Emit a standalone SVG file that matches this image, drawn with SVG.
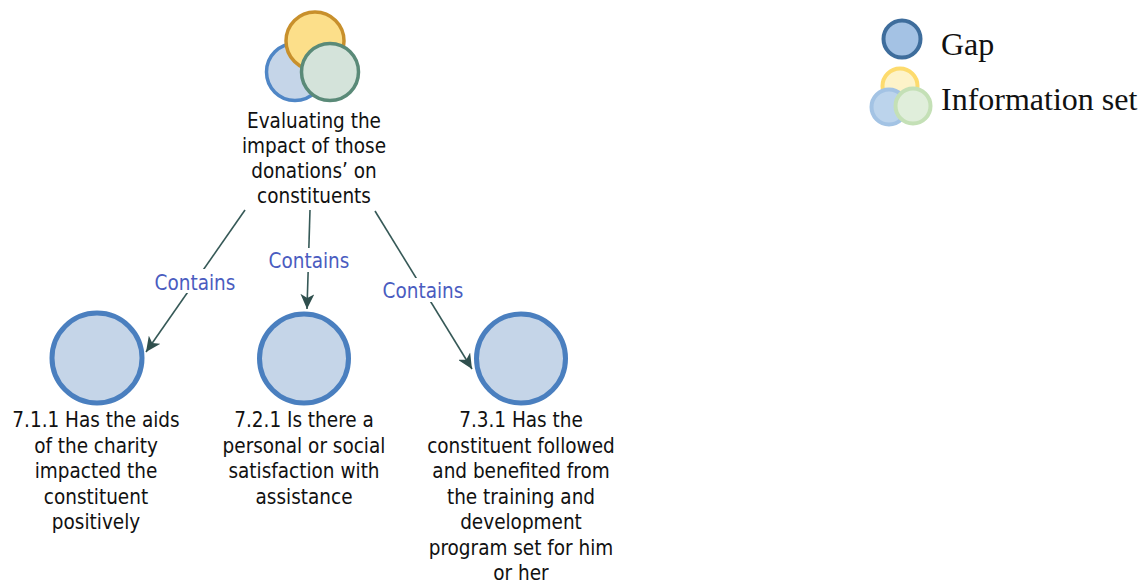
<svg xmlns="http://www.w3.org/2000/svg" width="1147" height="583" viewBox="0 0 1147 583">
<defs>
<style>
.lbl{font-family:"DejaVu Sans Condensed","DejaVu Sans",sans-serif;font-size:20.5px;fill:#111;text-anchor:middle}
.edge{font-family:"DejaVu Sans Condensed","DejaVu Sans",sans-serif;font-size:20.5px;fill:#4a5cc0;text-anchor:middle}
.gap{fill:#c5d5e8;stroke:#4a7fbf;stroke-width:5}
.conn{stroke:#365957;stroke-width:1.6;fill:none}
.leg{font-family:"Liberation Serif",serif;font-size:32px;fill:#111}
</style>
<marker id="arr" markerUnits="userSpaceOnUse" markerWidth="16" markerHeight="14" refX="15" refY="7" orient="auto">
<path d="M0,0 L15,7 L0,14 L4,7 Z" fill="#2f4f4d"/>
</marker>
</defs>
<rect width="1147" height="583" fill="#fff"/>

<g id="connectors">
<line class="conn" x1="245" y1="210" x2="146" y2="352" marker-end="url(#arr)"/>
<line class="conn" x1="310" y1="210" x2="307" y2="309" marker-end="url(#arr)"/>
<line class="conn" x1="375" y1="211" x2="472" y2="369" marker-end="url(#arr)"/>
<rect x="153" y="269" width="84" height="24" fill="#fff"/>
<text class="edge" x="195" y="290">Contains</text>
<rect x="266" y="248" width="86" height="24" fill="#fff"/>
<text class="edge" x="309" y="268">Contains</text>
<rect x="381" y="278" width="84" height="24" fill="#fff"/>
<text class="edge" x="423" y="298">Contains</text>
</g>

<g id="node-info">
<circle cx="295" cy="72" r="28.5" fill="#c5d5e8" stroke="#4f86c6" stroke-width="3.5"/>
<circle cx="315" cy="41" r="29" fill="#fcdf8a" stroke="#c8902c" stroke-width="3.5"/>
<circle cx="330" cy="72" r="28.5" fill="#d4e3da" stroke="#5a8a78" stroke-width="3.5"/>
<text class="lbl"><tspan x="314" y="128">Evaluating the</tspan><tspan x="314" y="153">impact of those</tspan><tspan x="314" y="178">donations’ on</tspan><tspan x="314" y="203">constituents</tspan></text>
</g>

<g id="node-711">
<circle class="gap" cx="97" cy="358" r="45"/>
<text class="lbl"><tspan x="96" y="427">7.1.1 Has the aids</tspan><tspan x="96" y="452.5">of the charity</tspan><tspan x="96" y="478">impacted the</tspan><tspan x="96" y="503.5">constituent</tspan><tspan x="96" y="529">positively</tspan></text>
</g>

<g id="node-721">
<circle class="gap" cx="304" cy="358.5" r="44.5"/>
<text class="lbl"><tspan x="304" y="427">7.2.1 Is there a</tspan><tspan x="304" y="452.5">personal or social</tspan><tspan x="304" y="478">satisfaction with</tspan><tspan x="304" y="503.5">assistance</tspan></text>
</g>

<g id="node-731">
<circle class="gap" cx="521" cy="358.5" r="44.5"/>
<text class="lbl"><tspan x="521" y="427">7.3.1 Has the</tspan><tspan x="521" y="452.5">constituent followed</tspan><tspan x="521" y="478">and benefited from</tspan><tspan x="521" y="503.5">the training and</tspan><tspan x="521" y="529">development</tspan><tspan x="521" y="554.5">program set for him</tspan><tspan x="521" y="580">or her</tspan></text>
</g>

<g id="legend">
<circle cx="902" cy="39" r="18.5" fill="#a4c2e4" stroke="#3e6d9c" stroke-width="4"/>
<text class="leg" x="941" y="55">Gap</text>
<circle cx="900" cy="86" r="17.5" fill="#fdf3c9" stroke="#fddb6d" stroke-width="4"/>
<circle cx="889" cy="107" r="17.5" fill="#bcd4ec" stroke="#a3c3e4" stroke-width="4"/>
<circle cx="913" cy="106" r="17.5" fill="#e0eedb" stroke="#c4e0b6" stroke-width="4"/>
<text class="leg" x="941" y="110">Information set</text>
</g>
</svg>
